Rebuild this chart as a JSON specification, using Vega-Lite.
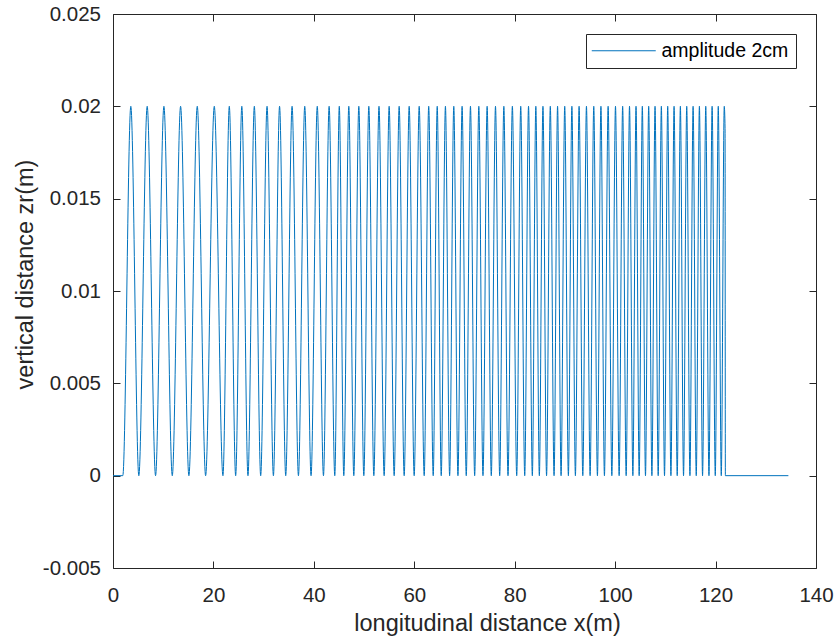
{
"$schema": "https://vega.github.io/schema/vega-lite/v6.json",
"width": 703, "height": 554,
"autosize": {"type": "none"},
"padding": {"left": 113, "top": 14, "right": 23, "bottom": 68},
"background": "white",
"config": {
  "view": {"stroke": "#262626", "strokeWidth": 1},
  "axis": {"domain": false, "tickColor": "#262626", "labelColor": "#262626", "titleColor": "#262626",
    "labelFont": "Liberation Sans", "titleFont": "Liberation Sans", "labelFontSize": 20.5, "titleFontSize": 23.5,
    "titleFontWeight": "normal", "grid": false, "ticks": true, "tickSize": 7, "offset": -7, "tickWidth": 1,
    "labelFlush": false, "labelOverlap": false},
  "legend": {"orient": "top-right", "offset": 20, "strokeColor": "#262626", "fillColor": "white", "padding": 7,
    "symbolType": "M-2.2,0H10.6", "symbolSize": 100, "symbolStrokeWidth": 1.2, "symbolStrokeColor": "#0072BD",
    "labelFontSize": 19.5, "labelFont": "Liberation Sans",
    "labelColor": "#000000", "labelOffset": 49, "cornerRadius": 0}
},
"data": {"values": [
{"x":0,"y":0},{"x":1.954,"y":0},
{"x":3.55,"y":0.02},{"x":5.145,"y":0},{"x":6.81,"y":0.02},{"x":8.475,"y":0},{"x":10.14,"y":0.02},{"x":11.805,"y":0},
{"x":13.46,"y":0.02},{"x":15.115,"y":0},{"x":16.78,"y":0.02},{"x":18.445,"y":0},{"x":20.17,"y":0.02},{"x":21.894,"y":0},
{"x":23.161,"y":0.02},{"x":24.427,"y":0},{"x":25.653,"y":0.02},{"x":26.879,"y":0},{"x":28.146,"y":0.02},{"x":29.412,"y":0},
{"x":30.678,"y":0.02},{"x":31.944,"y":0},{"x":33.171,"y":0.02},{"x":34.397,"y":0},{"x":35.663,"y":0.02},{"x":36.929,"y":0},
{"x":38.186,"y":0.02},{"x":39.442,"y":0},{"x":40.678,"y":0.02},{"x":41.914,"y":0},{"x":43.041,"y":0.02},{"x":44.167,"y":0},
{"x":45.065,"y":0.02},{"x":45.962,"y":0},{"x":46.959,"y":0.02},{"x":47.956,"y":0},{"x":48.953,"y":0.02},{"x":49.95,"y":0},
{"x":50.947,"y":0.02},{"x":51.944,"y":0},{"x":52.971,"y":0.02},{"x":53.998,"y":0},{"x":54.995,"y":0.02},{"x":55.992,"y":0},
{"x":56.989,"y":0.02},{"x":57.986,"y":0},{"x":58.983,"y":0.02},{"x":59.98,"y":0},{"x":60.977,"y":0.02},{"x":61.974,"y":0},
{"x":62.872,"y":0.02},{"x":63.769,"y":0},{"x":64.567,"y":0.02},{"x":65.364,"y":0},{"x":66.202,"y":0.02},{"x":67.039,"y":0},
{"x":67.867,"y":0.02},{"x":68.694,"y":0},{"x":69.522,"y":0.02},{"x":70.349,"y":0},{"x":71.187,"y":0.02},{"x":72.024,"y":0},
{"x":72.852,"y":0.02},{"x":73.679,"y":0},{"x":74.507,"y":0.02},{"x":75.334,"y":0},{"x":76.172,"y":0.02},{"x":77.009,"y":0},
{"x":77.837,"y":0.02},{"x":78.664,"y":0},{"x":79.532,"y":0.02},{"x":80.399,"y":0},{"x":81.197,"y":0.02},{"x":81.994,"y":0},
{"x":82.752,"y":0.02},{"x":83.509,"y":0},{"x":84.207,"y":0.02},{"x":84.905,"y":0},{"x":85.623,"y":0.02},{"x":86.341,"y":0},
{"x":87.089,"y":0.02},{"x":87.836,"y":0},{"x":88.534,"y":0.02},{"x":89.232,"y":0},{"x":89.96,"y":0.02},{"x":90.688,"y":0},
{"x":91.386,"y":0.02},{"x":92.084,"y":0},{"x":92.822,"y":0.02},{"x":93.559,"y":0},{"x":94.287,"y":0.02},{"x":95.015,"y":0},
{"x":95.743,"y":0.02},{"x":96.471,"y":0},{"x":97.169,"y":0.02},{"x":97.866,"y":0},{"x":98.604,"y":0.02},{"x":99.342,"y":0},
{"x":100.07,"y":0.02},{"x":100.798,"y":0},{"x":101.496,"y":0.02},{"x":102.194,"y":0},{"x":102.862,"y":0.02},{"x":103.53,"y":0},
{"x":104.158,"y":0.02},{"x":104.786,"y":0},{"x":105.414,"y":0.02},{"x":106.042,"y":0},{"x":106.68,"y":0.02},{"x":107.318,"y":0},
{"x":107.946,"y":0.02},{"x":108.574,"y":0},{"x":109.203,"y":0.02},{"x":109.831,"y":0},{"x":110.469,"y":0.02},{"x":111.107,"y":0},
{"x":111.735,"y":0.02},{"x":112.363,"y":0},{"x":112.991,"y":0.02},{"x":113.619,"y":0},{"x":114.257,"y":0.02},{"x":114.895,"y":0},
{"x":115.524,"y":0.02},{"x":116.152,"y":0},{"x":116.78,"y":0.02},{"x":117.408,"y":0},{"x":118.046,"y":0.02},{"x":118.684,"y":0},
{"x":119.312,"y":0.02},{"x":119.94,"y":0},{"x":120.538,"y":0.02},{"x":121.136,"y":0},{"x":121.73,"y":0.02},{"x":121.89,"y":0.0188},
{"x":121.95,"y":0},{"x":134.5,"y":0}
]},
"layer": [
  {"mark": {"type": "line", "interpolate": "monotone", "strokeWidth": 1},
   "encoding": {
     "x": {"field": "x", "type": "quantitative", "scale": {"domain": [0, 140], "nice": false, "zero": false},
       "axis": {"values": [0, 20, 40, 60, 80, 100, 120, 140], "title": "longitudinal distance x(m)",
         "titleX": 374, "titleY": 69, "titleBaseline": "alphabetic", "titleAlign": "center", "labelPadding": 17}},
     "y": {"field": "y", "type": "quantitative", "scale": {"domain": [-0.005, 0.025], "nice": false, "zero": false},
       "axis": {"values": [-0.005, 0, 0.005, 0.01, 0.015, 0.02, 0.025], "title": "vertical distance zr(m)",
         "labelExpr": "datum.value < 0 ? '-' + format(-datum.value, '~g') : format(datum.value, '~g')",
         "titleX": -88, "titleY": 260, "titleBaseline": "alphabetic", "titleAlign": "center", "titleAngle": -90,
         "labelPadding": 12.5}},
     "color": {"datum": "amplitude 2cm", "type": "nominal", "scale": {"range": ["#0072BD"]}, "legend": {"title": null}}
   }},
  {"mark": {"type": "line", "strokeOpacity": 0},
   "encoding": {
     "x": {"field": "x", "type": "quantitative",
       "axis": {"orient": "top", "labels": false, "title": null, "values": [0, 20, 40, 60, 80, 100, 120, 140]}},
     "y": {"field": "y", "type": "quantitative",
       "axis": {"orient": "right", "labels": false, "title": null, "values": [-0.005, 0, 0.005, 0.01, 0.015, 0.02, 0.025]}}
   }}
],
"resolve": {"axis": {"x": "independent", "y": "independent"}}
}
